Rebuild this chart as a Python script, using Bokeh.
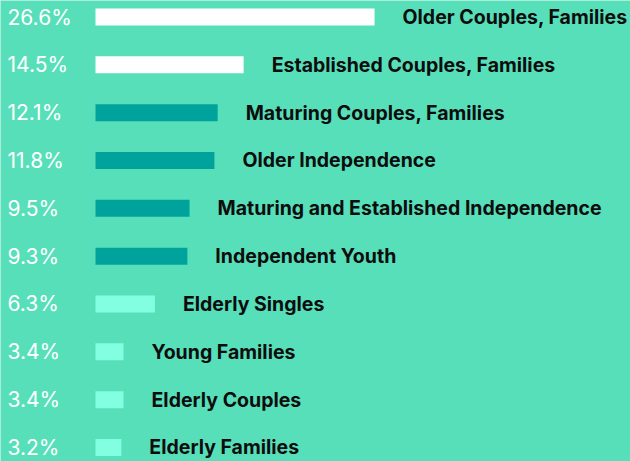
from bokeh.plotting import figure
from bokeh.models import Range1d, ColumnDataSource
from bokeh.core.properties import value
from bokeh.embed import file_html
from bokeh.resources import INLINE

categories = ["Older Couples, Families", "Established Couples, Families", "Maturing Couples, Families",
              "Older Independence", "Maturing and Established Independence", "Independent Youth",
              "Elderly Singles", "Young Families", "Elderly Couples", "Elderly Families"]
values = [26.6, 14.5, 12.1, 11.8, 9.5, 9.3, 6.3, 3.4, 3.4, 3.2]
pct_labels = ["26.6%", "14.5%", "12.1%", "11.8%", "9.5%", "9.3%", "6.3%", "3.4%", "3.4%", "3.2%"]
groups = ["top", "top", "mid", "mid", "mid", "mid", "low", "low", "low", "low"]

BG = "#57dfba"
group_colors = {"top": "#ffffff", "mid": "#00a39b", "low": "#82ffe0"}

W, H = 630, 461
px_per_unit = 10.82
base = 0.81          # bar start value (left edge of bars)
bar_left_px = 95
x_start = base - bar_left_px / px_per_unit
x_end = x_start + W / px_per_unit

row_px = 47.83
first_px = 16.5
y_top = -first_px / row_px
y_bot = (H - first_px) / row_px

idx = list(range(len(categories)))
src = ColumnDataSource(dict(
    y=idx,
    right=values,
    color=[group_colors[g] for g in groups],
    pct=pct_labels,
    cat=categories,
    pct_x=[x_start + 7 / px_per_unit] * len(idx),
    lab_x=[v + 28 / px_per_unit for v in values],
))

p = figure(width=W, height=H, output_backend="svg", toolbar_location=None,
           x_range=Range1d(x_start, x_end), y_range=Range1d(y_bot, y_top),
           min_border=0, background_fill_color=BG, border_fill_color=BG)
p.outline_line_color = None
p.axis.visible = False
p.grid.visible = False

p.hbar(y="y", left=base, right="right", height=17 / row_px, color="color",
       line_color=None, source=src)

p.text(x="pct_x", y="y", text="pct", source=src, text_color="#ffffff",
       text_font=value("Inter"), text_font_size="21px", text_baseline="middle",
       text_align="left")
p.text(x="lab_x", y="y", text="cat", source=src, text_color="#0d0d0d",
       text_font=value("Inter"), text_font_size="19.5px", text_font_style="bold",
       text_baseline="middle", text_align="left")

open("out.html", "w").write(file_html(p, INLINE))
